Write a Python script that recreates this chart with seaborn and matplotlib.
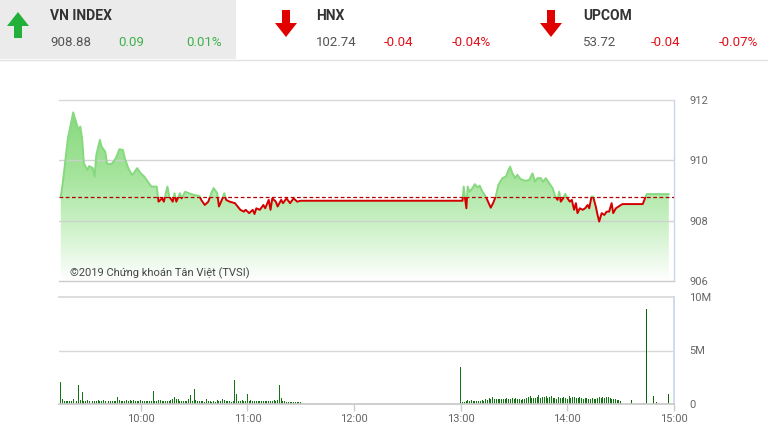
import numpy as np
import pandas as pd
import matplotlib.pyplot as plt
import matplotlib.patches as mpatches
from matplotlib.colors import LinearSegmentedColormap
import seaborn as sns

# VN-Index intraday (minutes after 09:00)
price_min = [15, 16, 19, 22, 23, 25, 26, 27, 28, 30, 31, 33, 34, 35, 37, 38, 40, 41, 42, 44,
             46, 48, 50, 51, 53, 55, 56, 58, 60, 62, 64, 66, 69, 70, 72, 73, 75, 76, 78, 79,
             80, 82, 83, 85, 87, 90, 93, 94, 96, 98, 100, 101, 103, 104, 106, 107, 108, 110, 113, 116,
             118, 119, 121, 123, 124, 125, 127, 129, 130, 132, 133, 134, 136, 137, 139, 140, 142, 144, 146, 148,
             150, 241, 241.7, 242.4, 243.2, 243.9, 245, 246.6, 248, 249.4, 250.7, 252.2, 254.1, 255.4, 256.9, 258.2,
             259.7, 261.2, 263.5, 265.4, 266.9, 267.8, 269.1, 270.6, 271.9, 273.2, 274.7, 276.6, 278.5, 280.4, 281.8, 283.2,
             285.1, 286.4, 287.9, 289.8, 291.7, 293.2, 294.5, 295.4, 296.3, 297.6, 298.8, 300.1, 301.4, 302.5, 303.8, 304.8,
             305.7, 307, 308.6, 310, 311.4, 312.3, 313.6, 314.5, 316, 317, 317.9, 319.3, 320.8, 322.1, 323.5, 324.9,
             325.8, 327.3, 328.8, 330.1, 331.1, 342.4, 344.6, 357.1]
price_val = [908.80, 909.19, 910.73, 911.59, 911.39, 911.00, 911.12, 910.73, 909.90, 909.68,
             909.81, 909.74, 909.46, 910.18, 910.68, 910.45, 910.29, 909.90, 909.87, 909.90,
             910.07, 910.37, 910.34, 910.07, 909.74, 909.52, 909.57, 909.74, 909.57, 909.46,
             909.29, 909.13, 909.13, 908.63, 908.74, 908.63, 909.13, 908.80, 908.63, 908.91,
             908.63, 908.91, 908.74, 908.96, 908.91, 908.85, 908.82, 908.69, 908.52, 908.63,
             908.96, 909.08, 908.91, 908.47, 908.74, 908.91, 908.69, 908.63, 908.58, 908.36,
             908.30, 908.36, 908.25, 908.36, 908.22, 908.41, 908.36, 908.52, 908.41, 908.69,
             908.36, 908.74, 908.63, 908.47, 908.69, 908.58, 908.74, 908.58, 908.74, 908.63,
             908.66, 908.66, 909.13, 908.76, 908.41, 909.13, 908.96, 909.08, 909.21, 909.10,
             909.16, 908.96, 908.80, 908.63, 908.43, 908.58, 908.80, 909.19, 909.41, 909.46,
             909.68, 909.79, 909.57, 909.41, 909.52, 909.41, 909.35, 909.32, 909.35, 909.57,
             909.29, 909.41, 909.41, 909.29, 909.41, 909.24, 909.08, 908.80, 908.69, 908.96,
             908.63, 908.74, 908.89, 908.74, 908.63, 908.69, 908.36, 908.58, 908.25, 908.41,
             908.36, 908.41, 908.52, 908.41, 908.80, 908.80, 908.47, 908.19, 907.97, 908.25,
             908.19, 908.30, 908.30, 908.58, 908.25, 908.41, 908.47, 908.52, 908.55, 908.55,
             908.88, 908.88]
ref_close = 908.79

# matched volume per minute, millions of shares
vol_min_am = list(range(15, 151))
vol_am = [2.1, 0.45, 0.3, 0.25, 0.3, 0.28, 0.3, 0.44, 0.3, 0.32,
          1.8, 0.35, 1.16, 0.3, 0.28, 0.33, 0.3, 0.35, 0.3, 0.28,
          0.32, 0.35, 0.3, 0.28, 0.33, 0.3, 0.32, 0.3, 0.28, 0.3,
          0.3, 0.27, 0.63, 0.4, 0.3, 0.28, 0.32, 0.35, 0.3, 0.33,
          0.3, 0.35, 0.3, 0.32, 0.28, 0.35, 0.3, 0.3, 0.28, 0.25,
          0.3, 0.28, 1.26, 0.3, 0.32, 0.35, 0.33, 0.3, 0.3, 0.28,
          0.3, 0.3, 0.35, 0.5, 0.63, 0.45, 0.48, 0.3, 0.28, 0.3,
          0.25, 0.3, 0.45, 0.85, 0.3, 1.38, 0.35, 0.3, 0.25, 0.28,
          0.3, 0.2, 0.44, 0.3, 0.25, 0.22, 0.3, 0.2, 0.35, 0.3,
          0.28, 0.45, 0.4, 0.3, 0.28, 0.25, 0.22, 0.25, 2.26, 0.94,
          0.3, 0.28, 0.4, 0.3, 0.25, 0.94, 0.3, 0.35, 0.3, 0.28,
          0.3, 0.25, 0.3, 0.28, 0.3, 0.25, 0.3, 0.28, 0.3, 0.3,
          0.35, 0.3, 0.4, 1.8, 0.53, 0.3, 0.25, 0.2, 0.18, 0.16,
          0.16, 0.15, 0.16, 0.15, 0.16, 0.15]
vol_min_pm = list(range(240, 331))
vol_pm = [3.46, 0.15, 0.2, 0.25, 0.4, 0.3, 0.35, 0.28, 0.3, 0.25,
          0.3, 0.28, 0.35, 0.3, 0.45, 0.4, 0.55, 0.5, 0.62, 0.45,
          0.5, 0.45, 0.48, 0.5, 0.45, 0.5, 0.55, 0.5, 0.45, 0.52,
          0.45, 0.55, 0.48, 0.45, 0.4, 0.5, 0.45, 0.55, 0.65, 0.72,
          0.6, 0.55, 0.6, 0.65, 0.85, 0.6, 0.65, 0.7, 0.72, 0.6,
          0.7, 0.75, 0.6, 0.55, 0.5, 0.7, 0.55, 0.6, 0.65, 0.55,
          0.5, 0.72, 0.55, 0.62, 0.68, 0.6, 0.58, 0.65, 0.55, 0.5,
          0.6, 0.55, 0.5, 0.48, 0.55, 0.5, 0.45, 0.52, 0.65, 0.6,
          0.68, 0.55, 0.62, 0.7, 0.6, 0.5, 0.45, 0.5, 0.4, 0.35,
          0.3]
vol_min_atc = [336, 343, 344.5, 348.5, 350, 357]
vol_atc = [0.4, 0.1, 8.84, 0.75, 0.15, 0.94]

hour_ticks = [60, 120, 180, 240, 300, 360]
hour_labels = ["10:00", "11:00", "12:00", "13:00", "14:00", "15:00"]

# header quotes
idx_names = ["VN INDEX", "HNX", "UPCOM"]
idx_values = ["908.88", "102.74", "53.72"]
idx_changes = ["0.09", "-0.04", "-0.04"]
idx_pcts = ["0.01%", "-0.04%", "-0.07%"]
idx_up = [True, False, False]

sns.set_theme(style="white")
plt.rcParams['font.family'] = ['Roboto', 'DejaVu Sans']

GREEN_TXT = "#3fb04a"
RED_TXT = "#e0101a"
LINE_RED = "#d40000"
LINE_GREEN = "#86d97f"
GRID = "#d8d8d8"
AXIS_TXT = "#666666"

fig = plt.figure(figsize=(7.68, 4.34), dpi=100)

# header strip (pixel coordinates)
hdr = fig.add_axes([0, 0, 1, 1], zorder=0)
hdr.set_xlim(0, 768)
hdr.set_ylim(434, 0)
hdr.axis("off")
hdr.add_patch(mpatches.Rectangle((0, 0), 236, 59, facecolor="#ebebeb", edgecolor="none"))
hdr.plot([0, 768], [59.5, 59.5], color="#e2e2e2", lw=1)

col_x = [50, 316, 583]
arrow_x = [18, 286, 551]
for i in range(3):
    x0 = col_x[i]
    c = GREEN_TXT if idx_up[i] else RED_TXT
    hdr.text(x0, 16, idx_names[i], fontsize=10, fontweight="bold", color="#333333",
             va="center", ha="left")
    hdr.text(x0, 43, idx_values[i], fontsize=9.5, color="#555555",
             va="center", ha="left")
    hdr.text(x0 + 68, 43, idx_changes[i], fontsize=9.5, color=c,
             va="center", ha="left")
    hdr.text(x0 + 136, 43, idx_pcts[i], fontsize=9.5, color=c,
             va="center", ha="left")
    ax_c = arrow_x[i]
    if idx_up[i]:
        pts = [(ax_c, 12), (ax_c - 11, 26), (ax_c - 4, 26), (ax_c - 4, 38),
               (ax_c + 4, 38), (ax_c + 4, 26), (ax_c + 11, 26)]
        fc = "#22b03a"
    else:
        pts = [(ax_c, 37), (ax_c - 11, 23), (ax_c - 4, 23), (ax_c - 4, 10),
               (ax_c + 4, 10), (ax_c + 4, 23), (ax_c + 11, 23)]
        fc = "#e00000"
    hdr.add_patch(mpatches.Polygon(pts, closed=True, facecolor=fc, edgecolor="none"))

# price panel
ax = fig.add_axes([59 / 768, 1 - 281 / 434, 615 / 768, 181 / 434], zorder=2)
ax.patch.set_alpha(0)
df = pd.DataFrame({"minute": price_min, "index": price_val})

poly = ax.fill_between(df["minute"], df["index"], 906, facecolor="none", edgecolor="none")
cmap = LinearSegmentedColormap.from_list(
    "fade", [(0, "#ffffff"), (0.33, "#c8f0c3"), (0.6, "#a3e49a"), (1, "#82d779")])
grad = np.linspace(0, 1, 256).reshape(-1, 1)
im = ax.imshow(grad, extent=[14, 360, 906, 912], origin="lower", aspect="auto",
               cmap=cmap, zorder=1)
im.set_clip_path(poly.get_paths()[0], transform=ax.transData)

for yv in [908, 910]:
    ax.axhline(yv, color="#cfcfcf", lw=1, zorder=2, alpha=0.9)
ax.axhline(ref_close, color="#b00000", lw=0.9, ls=(0, (3, 2)), zorder=3)

sns.lineplot(data=df, x="minute", y="index", ax=ax, color=LINE_RED, lw=1.4, zorder=4)
sns.lineplot(data=df, x="minute", y="index", ax=ax, color=LINE_GREEN, lw=1.4, zorder=4)
below = mpatches.Rectangle((0, 900), 400, ref_close - 900, transform=ax.transData)
above = mpatches.Rectangle((0, ref_close), 400, 20, transform=ax.transData)
ax.lines[-2].set_clip_path(below)
ax.lines[-1].set_clip_path(above)

ax.set_xlim(14, 360)
ax.set_ylim(906, 912)
ax.set_xticks([])
ax.set_yticks([906, 908, 910, 912])
ax.yaxis.tick_right()
ax.tick_params(axis="y", length=0, pad=11, labelsize=8, labelcolor=AXIS_TXT)
ax.set_xlabel("")
ax.set_ylabel("")
ax.spines["left"].set_visible(False)
ax.spines["top"].set_color(GRID)
ax.spines["bottom"].set_color("#cccccc")
ax.spines["right"].set_color("#ccd6eb")
for s in ["top", "bottom", "right"]:
    ax.spines[s].set_linewidth(1)
ax.text(0.018, 0.045, "©2019 Chứng khoán Tân Việt (TVSI)", transform=ax.transAxes,
        fontsize=8, color="#444444", ha="left", va="center", zorder=5)

# volume panel
ax2 = fig.add_axes([59 / 768, 1 - 404 / 434, 615 / 768, 107 / 434], zorder=2)
ax2.patch.set_alpha(0)
bar_color = "#127412"
ax2.bar(vol_min_am, vol_am, width=0.55, color=bar_color, linewidth=0)
ax2.bar(vol_min_pm, vol_pm, width=0.55, color=bar_color, linewidth=0)
ax2.bar(vol_min_atc, vol_atc, width=0.6, color="#0d640d", linewidth=0)
ax2.axhline(5, color=GRID, lw=1, zorder=0)
ax2.set_xlim(14, 360)
ax2.set_ylim(0, 10)
ax2.set_xticks(hour_ticks)
ax2.set_xticklabels(hour_labels)
ax2.set_yticks([0, 5, 10])
ax2.set_yticklabels(["0", "5M", "10M"])
ax2.yaxis.tick_right()
ax2.tick_params(axis="y", length=0, pad=11, labelsize=8, labelcolor=AXIS_TXT)
ax2.tick_params(axis="x", length=5, width=1, color="#cccccc", direction="out",
                pad=2, labelsize=8, labelcolor=AXIS_TXT, bottom=True)
ax2.spines["left"].set_visible(False)
ax2.spines["top"].set_color(GRID)
ax2.spines["bottom"].set_color("#c8c8c8")
ax2.spines["right"].set_color("#ccd6eb")

fig.savefig("out.png", dpi=100)
